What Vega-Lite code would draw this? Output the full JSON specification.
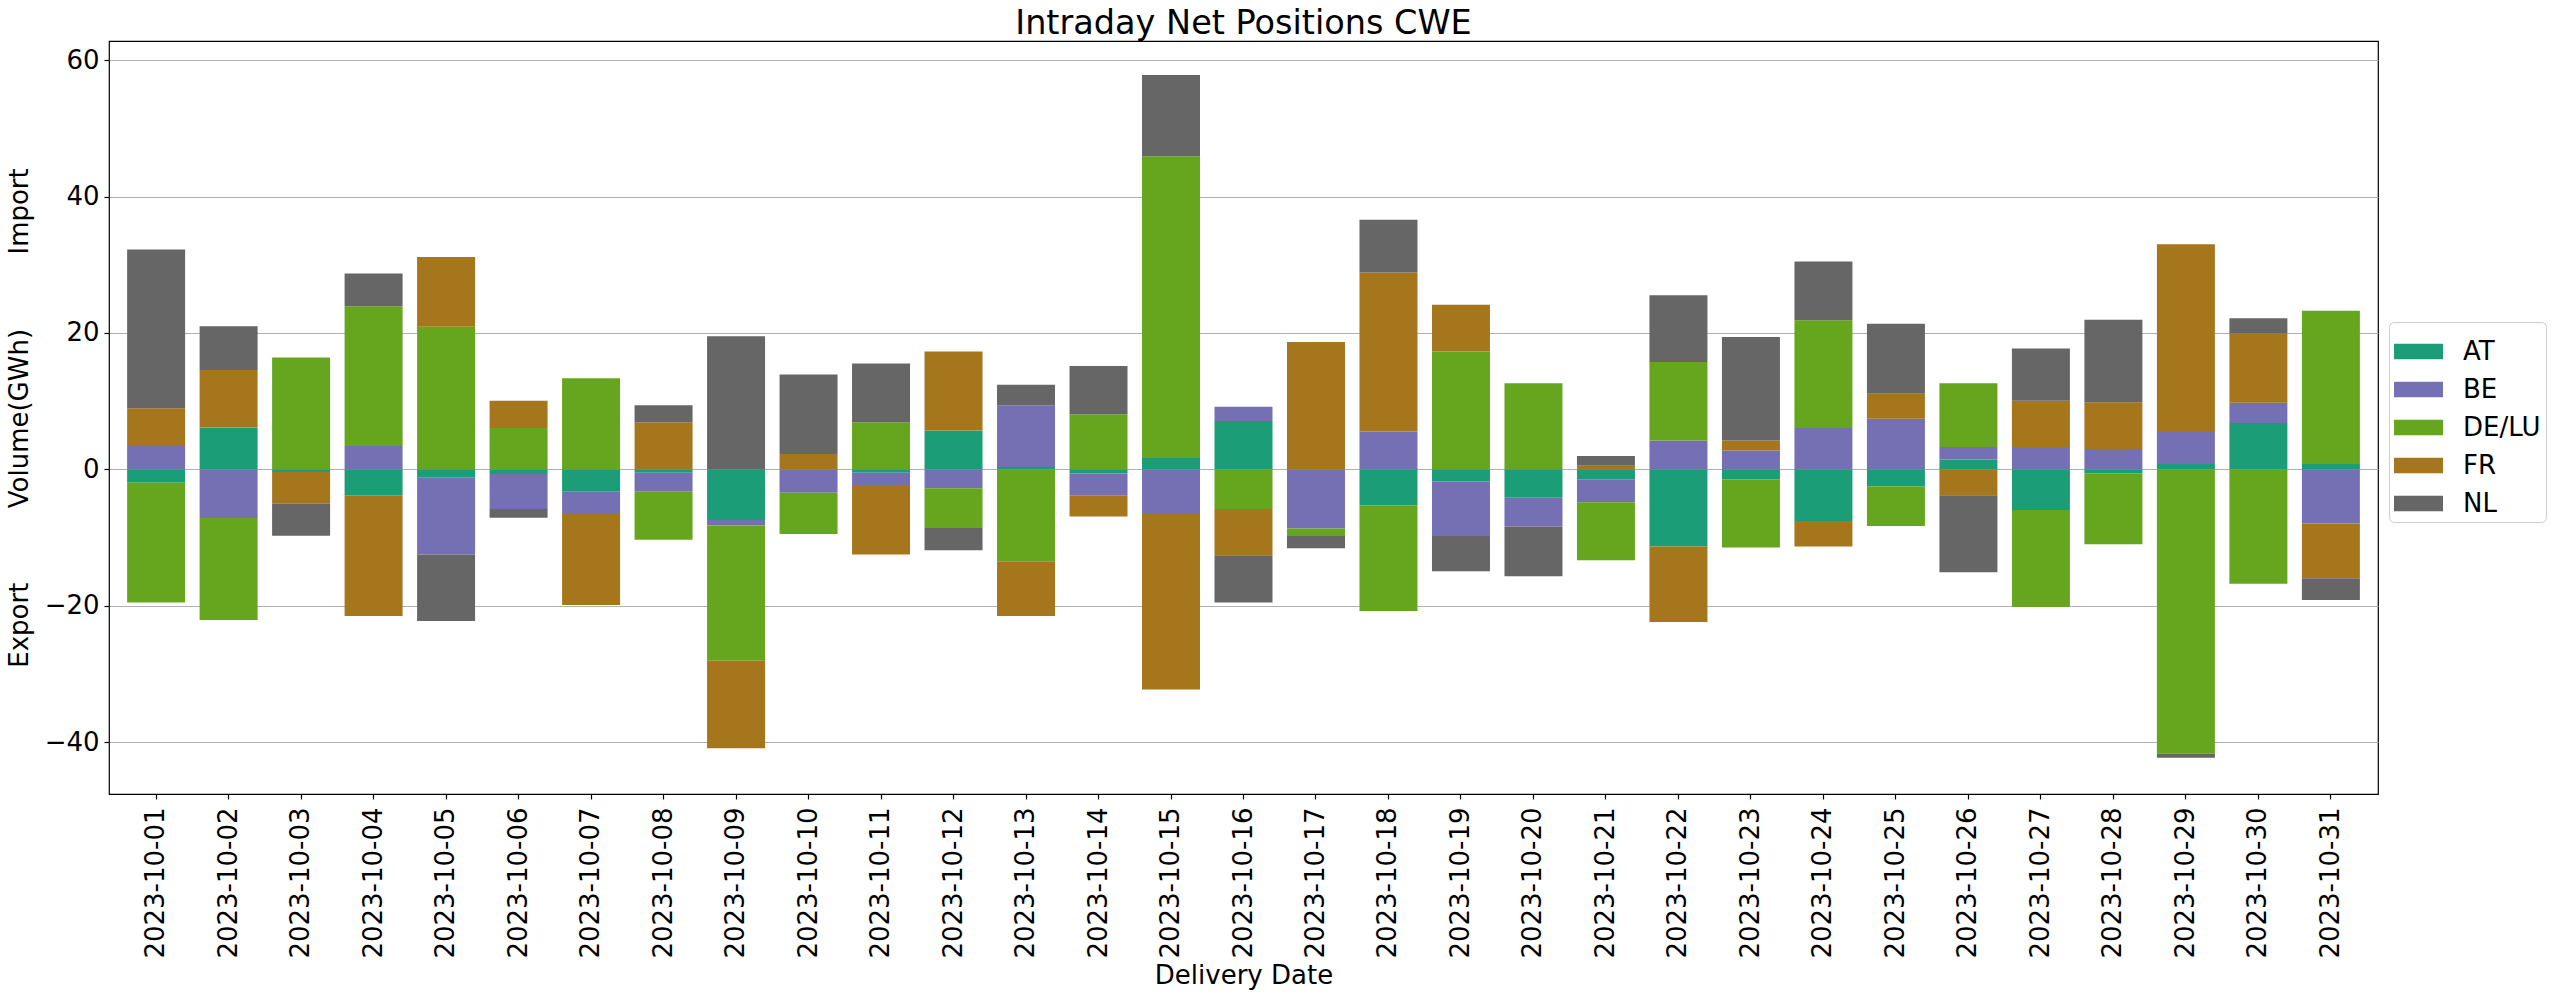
{
  "$schema": "https://vega.github.io/schema/vega-lite/v6.json",
  "autosize": "none",
  "padding": {"left": 109, "top": 41, "right": 174, "bottom": 200},
  "width": 2269,
  "height": 753,
  "background": "white",
  "title": {"text": "Intraday Net Positions CWE", "fontSize": 33.5, "font": "DejaVu Sans", "fontWeight": "normal", "color": "black", "offset": 0, "anchor": "middle"},
  "config": {
    "font": "DejaVu Sans",
    "view": {"stroke": "black", "strokeWidth": 1.2},
    "axis": {"labelFont": "DejaVu Sans", "titleFont": "DejaVu Sans", "labelColor": "black", "titleColor": "black", "tickColor": "black", "domainColor": "black", "labelFontSize": 26, "titleFontSize": 26, "titleFontWeight": "normal", "tickSize": 5, "tickWidth": 1.2, "domainWidth": 1.2}
  },
  "data": {"values": [
    {"date":"2023-10-01","country":"AT","value":-1.97},{"date":"2023-10-01","country":"BE","value":3.43},{"date":"2023-10-01","country":"DE/LU","value":-17.57},{"date":"2023-10-01","country":"FR","value":5.54},{"date":"2023-10-01","country":"NL","value":23.25},
    {"date":"2023-10-02","country":"AT","value":6.12},{"date":"2023-10-02","country":"BE","value":-7.14},{"date":"2023-10-02","country":"DE/LU","value":-14.94},{"date":"2023-10-02","country":"FR","value":8.45},{"date":"2023-10-02","country":"NL","value":6.41},
    {"date":"2023-10-03","country":"AT","value":-0.4},{"date":"2023-10-03","country":"BE","value":0},{"date":"2023-10-03","country":"DE/LU","value":16.4},{"date":"2023-10-03","country":"FR","value":-4.66},{"date":"2023-10-03","country":"NL","value":-4.66},
    {"date":"2023-10-04","country":"AT","value":-3.79},{"date":"2023-10-04","country":"BE","value":3.43},{"date":"2023-10-04","country":"DE/LU","value":20.48},{"date":"2023-10-04","country":"FR","value":-17.71},{"date":"2023-10-04","country":"NL","value":4.81},
    {"date":"2023-10-05","country":"AT","value":-1.17},{"date":"2023-10-05","country":"BE","value":-11.3},{"date":"2023-10-05","country":"DE/LU","value":20.92},{"date":"2023-10-05","country":"FR","value":10.2},{"date":"2023-10-05","country":"NL","value":-9.77},
    {"date":"2023-10-06","country":"AT","value":-0.7},{"date":"2023-10-06","country":"BE","value":-5.1},{"date":"2023-10-06","country":"DE/LU","value":6.05},{"date":"2023-10-06","country":"FR","value":4.0},{"date":"2023-10-06","country":"NL","value":-1.3},
    {"date":"2023-10-07","country":"AT","value":-3.28},{"date":"2023-10-07","country":"BE","value":-3.28},{"date":"2023-10-07","country":"DE/LU","value":13.34},{"date":"2023-10-07","country":"FR","value":-13.34},{"date":"2023-10-07","country":"NL","value":0},
    {"date":"2023-10-08","country":"AT","value":-0.5},{"date":"2023-10-08","country":"BE","value":-2.77},{"date":"2023-10-08","country":"DE/LU","value":-7.07},{"date":"2023-10-08","country":"FR","value":6.92},{"date":"2023-10-08","country":"NL","value":2.48},
    {"date":"2023-10-09","country":"AT","value":-7.43},{"date":"2023-10-09","country":"BE","value":-0.8},{"date":"2023-10-09","country":"DE/LU","value":-19.83},{"date":"2023-10-09","country":"FR","value":-12.83},{"date":"2023-10-09","country":"NL","value":19.53},
    {"date":"2023-10-10","country":"AT","value":0},{"date":"2023-10-10","country":"BE","value":-3.43},{"date":"2023-10-10","country":"DE/LU","value":-6.05},{"date":"2023-10-10","country":"FR","value":2.26},{"date":"2023-10-10","country":"NL","value":11.66},
    {"date":"2023-10-11","country":"AT","value":-0.5},{"date":"2023-10-11","country":"BE","value":-1.8},{"date":"2023-10-11","country":"DE/LU","value":6.92},{"date":"2023-10-11","country":"FR","value":-10.2},{"date":"2023-10-11","country":"NL","value":8.6},
    {"date":"2023-10-12","country":"AT","value":5.69},{"date":"2023-10-12","country":"BE","value":-2.77},{"date":"2023-10-12","country":"DE/LU","value":-5.83},{"date":"2023-10-12","country":"FR","value":11.59},{"date":"2023-10-12","country":"NL","value":-3.28},
    {"date":"2023-10-13","country":"AT","value":0.36},{"date":"2023-10-13","country":"BE","value":9.04},{"date":"2023-10-13","country":"DE/LU","value":-13.48},{"date":"2023-10-13","country":"FR","value":-8.02},{"date":"2023-10-13","country":"NL","value":3.0},
    {"date":"2023-10-14","country":"AT","value":-0.6},{"date":"2023-10-14","country":"BE","value":-3.2},{"date":"2023-10-14","country":"DE/LU","value":8.09},{"date":"2023-10-14","country":"FR","value":-3.13},{"date":"2023-10-14","country":"NL","value":7.07},
    {"date":"2023-10-15","country":"AT","value":1.68},{"date":"2023-10-15","country":"BE","value":-6.56},{"date":"2023-10-15","country":"DE/LU","value":44.24},{"date":"2023-10-15","country":"FR","value":-25.73},{"date":"2023-10-15","country":"NL","value":11.88},
    {"date":"2023-10-16","country":"AT","value":7.07},{"date":"2023-10-16","country":"BE","value":2.11},{"date":"2023-10-16","country":"DE/LU","value":-5.83},{"date":"2023-10-16","country":"FR","value":-6.78},{"date":"2023-10-16","country":"NL","value":-6.92},
    {"date":"2023-10-17","country":"AT","value":0},{"date":"2023-10-17","country":"BE","value":-8.67},{"date":"2023-10-17","country":"DE/LU","value":-1.09},{"date":"2023-10-17","country":"FR","value":18.66},{"date":"2023-10-17","country":"NL","value":-1.82},
    {"date":"2023-10-18","country":"AT","value":-5.25},{"date":"2023-10-18","country":"BE","value":5.54},{"date":"2023-10-18","country":"DE/LU","value":-15.52},{"date":"2023-10-18","country":"FR","value":23.32},{"date":"2023-10-18","country":"NL","value":7.73},
    {"date":"2023-10-19","country":"AT","value":-1.75},{"date":"2023-10-19","country":"BE","value":-8.02},{"date":"2023-10-19","country":"DE/LU","value":17.27},{"date":"2023-10-19","country":"FR","value":6.85},{"date":"2023-10-19","country":"NL","value":-5.17},
    {"date":"2023-10-20","country":"AT","value":-4.15},{"date":"2023-10-20","country":"BE","value":-4.23},{"date":"2023-10-20","country":"DE/LU","value":12.61},{"date":"2023-10-20","country":"FR","value":0},{"date":"2023-10-20","country":"NL","value":-7.29},
    {"date":"2023-10-21","country":"AT","value":-1.47},{"date":"2023-10-21","country":"BE","value":-3.37},{"date":"2023-10-21","country":"DE/LU","value":-8.5},{"date":"2023-10-21","country":"FR","value":0.53},{"date":"2023-10-21","country":"NL","value":1.42},
    {"date":"2023-10-22","country":"AT","value":-11.3},{"date":"2023-10-22","country":"BE","value":4.23},{"date":"2023-10-22","country":"DE/LU","value":11.52},{"date":"2023-10-22","country":"FR","value":-11.08},{"date":"2023-10-22","country":"NL","value":9.77},
    {"date":"2023-10-23","country":"AT","value":-1.46},{"date":"2023-10-23","country":"BE","value":2.77},{"date":"2023-10-23","country":"DE/LU","value":-9.99},{"date":"2023-10-23","country":"FR","value":1.46},{"date":"2023-10-23","country":"NL","value":15.16},
    {"date":"2023-10-24","country":"AT","value":-7.58},{"date":"2023-10-24","country":"BE","value":6.05},{"date":"2023-10-24","country":"DE/LU","value":15.82},{"date":"2023-10-24","country":"FR","value":-3.72},{"date":"2023-10-24","country":"NL","value":8.6},
    {"date":"2023-10-25","country":"AT","value":-2.48},{"date":"2023-10-25","country":"BE","value":7.43},{"date":"2023-10-25","country":"DE/LU","value":-5.83},{"date":"2023-10-25","country":"FR","value":3.64},{"date":"2023-10-25","country":"NL","value":10.28},
    {"date":"2023-10-26","country":"AT","value":1.46},{"date":"2023-10-26","country":"BE","value":1.82},{"date":"2023-10-26","country":"DE/LU","value":9.33},{"date":"2023-10-26","country":"FR","value":-3.79},{"date":"2023-10-26","country":"NL","value":-11.3},
    {"date":"2023-10-27","country":"AT","value":-5.98},{"date":"2023-10-27","country":"BE","value":3.28},{"date":"2023-10-27","country":"DE/LU","value":-14.21},{"date":"2023-10-27","country":"FR","value":6.78},{"date":"2023-10-27","country":"NL","value":7.65},
    {"date":"2023-10-28","country":"AT","value":-0.58},{"date":"2023-10-28","country":"BE","value":2.99},{"date":"2023-10-28","country":"DE/LU","value":-10.42},{"date":"2023-10-28","country":"FR","value":6.85},{"date":"2023-10-28","country":"NL","value":12.1},
    {"date":"2023-10-29","country":"AT","value":0.8},{"date":"2023-10-29","country":"BE","value":4.66},{"date":"2023-10-29","country":"DE/LU","value":-41.69},{"date":"2023-10-29","country":"FR","value":27.55},{"date":"2023-10-29","country":"NL","value":-0.58},
    {"date":"2023-10-30","country":"AT","value":6.78},{"date":"2023-10-30","country":"BE","value":2.99},{"date":"2023-10-30","country":"DE/LU","value":-16.76},{"date":"2023-10-30","country":"FR","value":10.13},{"date":"2023-10-30","country":"NL","value":2.26},
    {"date":"2023-10-31","country":"AT","value":0.8},{"date":"2023-10-31","country":"BE","value":-7.94},{"date":"2023-10-31","country":"DE/LU","value":22.45},{"date":"2023-10-31","country":"FR","value":-8.02},{"date":"2023-10-31","country":"NL","value":-3.21}
  ]},
  "mark": {"type": "bar", "strokeWidth": 0},
  "encoding": {
    "x": {
      "field": "date", "type": "ordinal",
      "scale": {"paddingInner": 0.2, "paddingOuter": 0.25},
      "axis": {"title": "Delivery Date", "labelAngle": -90, "labelPadding": 8, "titlePadding": 4, "grid": false, "domain": false}
    },
    "y": {
      "field": "value", "type": "quantitative", "stack": "zero",
      "scale": {"domain": [-47.6, 62.8], "nice": false, "zero": false},
      "axis": {"title": "Export\u00a0\u00a0\u00a0\u00a0\u00a0\u00a0\u00a0\u00a0\u00a0Volume(GWh)\u00a0\u00a0\u00a0\u00a0\u00a0\u00a0\u00a0\u00a0\u00a0Import", "values": [-40, -20, 0, 20, 40, 60], "labelPadding": 5, "titlePadding": 12, "grid": true, "gridColor": "#b0b0b0", "gridWidth": 1.1, "domain": false}
    },
    "color": {
      "field": "country", "type": "nominal",
      "scale": {"domain": ["AT", "BE", "DE/LU", "FR", "NL"], "range": ["#1b9e77", "#7570b3", "#66a61e", "#a6761d", "#666666"]},
      "legend": {
        "title": null, "orient": "none", "legendX": 2280, "legendY": 281,
        "symbolType": "M-1,-0.32H1V0.32H-1Z", "symbolSize": 2401, "symbolStrokeWidth": 0,
        "labelFontSize": 26, "labelFont": "DejaVu Sans", "labelColor": "black", "labelOffset": 20,
        "rowPadding": -2, "padding": 5, "strokeColor": "#cccccc", "fillColor": "white", "cornerRadius": 5
      }
    },
    "order": {"field": "country", "sort": "ascending"}
  }
}
